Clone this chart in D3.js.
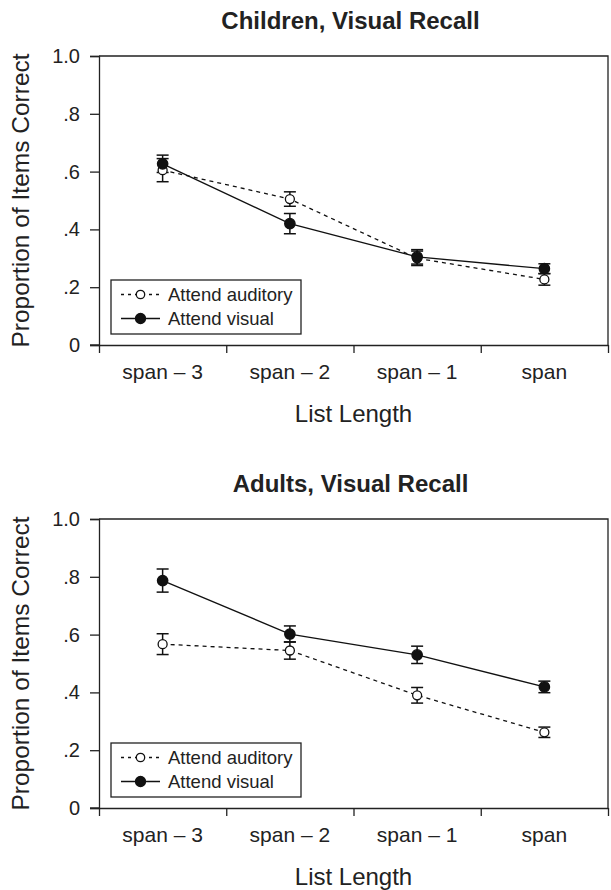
<!DOCTYPE html>
<html>
<head>
<meta charset="utf-8">
<script src="https://cdn.jsdelivr.net/npm/d3@7"></script>
<style>
  body { margin: 0; background: #fff; }
  text { font-family: "Liberation Sans", Arial, Helvetica, sans-serif; fill: #222; }
</style>
</head>
<body>
<div id="chart"></div>
<script>
var categories = ["span \u2013 3", "span \u2013 2", "span \u2013 1", "span"];
var yTicks = [0, 0.2, 0.4, 0.6, 0.8, 1.0];
var seriesNames = ["Attend auditory", "Attend visual"];

// children panel
var childAuditory = [0.605, 0.505, 0.300, 0.227];
var childAuditoryErr = [0.040, 0.025, 0.025, 0.020];
var childVisual = [0.627, 0.420, 0.305, 0.264];
var childVisualErr = [0.030, 0.035, 0.025, 0.017];

// adults panel
var adultAuditory = [0.567, 0.545, 0.390, 0.262];
var adultAuditoryErr = [0.036, 0.030, 0.027, 0.018];
var adultVisual = [0.787, 0.602, 0.530, 0.419];
var adultVisualErr = [0.040, 0.028, 0.030, 0.020];

var svgWidth = 611, svgHeight = 890;
var svg = d3.select("#chart").append("svg")
  .attr("width", svgWidth)
  .attr("height", svgHeight);

var plotLeft = 99, plotW = 509, plotH = 289;

function drawPanel(top, title, auditory, auditoryErr, visual, visualErr) {
  var g = svg.append("g").attr("transform", `translate(${plotLeft}, ${top})`);

  var x = d3.scaleBand().domain(categories).range([0, plotW]).padding(0);
  var xEdge = d3.scaleLinear().domain([0, categories.length]).range([0, plotW]);
  var y = d3.scaleLinear().domain([0, 1]).range([plotH, 0]);

  // box (top + right)
  g.append("path")
    .attr("d", `M0,0H${plotW}V${plotH}`)
    .attr("fill", "none").attr("stroke", "#222").attr("stroke-width", 1.3);

  // y axis
  var yAxis = g.append("g")
    .call(d3.axisLeft(y).tickValues(yTicks).tickSizeOuter(0).tickSize(9).tickPadding(10)
      .tickFormat(d => d === 0 ? "0" : d === 1 ? "1.0" : d3.format(".1f")(d).replace("0.", ".")));
  yAxis.selectAll("text").attr("font-size", "20px").attr("fill", "#222");

  // x axis: ticks at band edges, labels at centres
  g.append("g").attr("transform", `translate(0, ${plotH})`)
    .call(d3.axisBottom(xEdge).tickValues(d3.range(categories.length + 1)).tickSize(8).tickSizeOuter(0).tickFormat(""));
  var xLabels = g.append("g").attr("transform", `translate(0, ${plotH})`)
    .call(d3.axisBottom(x).tickSize(0).tickPadding(19));
  xLabels.select(".domain").remove();
  xLabels.selectAll("text").attr("font-size", "21px").attr("fill", "#222");

  g.selectAll(".domain, .tick line").attr("stroke", "#222").attr("stroke-width", 1.3);
  // extend baseline under the 0 tick
  g.append("line").attr("x1", -9).attr("x2", 0).attr("y1", plotH).attr("y2", plotH)
    .attr("stroke", "#222").attr("stroke-width", 1.3);

  // titles
  svg.append("text")
    .attr("x", plotLeft + plotW / 2 - 3).attr("y", top - 27)
    .attr("text-anchor", "middle").attr("font-size", "24px").attr("font-weight", "bold")
    .text(title);
  svg.append("text")
    .attr("x", plotLeft + plotW / 2).attr("y", top + plotH + 77)
    .attr("text-anchor", "middle").attr("font-size", "24px")
    .text("List Length");
  svg.append("text")
    .attr("transform", `translate(29, ${top + plotH / 2}) rotate(-90)`)
    .attr("text-anchor", "middle").attr("font-size", "24.5px")
    .text("Proportion of Items Correct");

  var series = [
    { vals: auditory, err: auditoryErr, dash: "4,4", fill: "#fff" },
    { vals: visual, err: visualErr, dash: null, fill: "#111" }
  ];

  var line = d3.line()
    .x((d, i) => x(categories[i]) + x.bandwidth() / 2)
    .y(d => y(d));

  series.forEach(function(s) {
    g.append("path")
      .attr("d", line(s.vals))
      .attr("fill", "none")
      .attr("stroke", "#111")
      .attr("stroke-width", 1.3)
      .attr("stroke-dasharray", s.dash);
  });

  series.forEach(function(s) {
    s.vals.forEach(function(v, i) {
      var cx = x(categories[i]) + x.bandwidth() / 2;
      var lo = y(v - s.err[i]), hi = y(v + s.err[i]);
      var eb = g.append("g").attr("stroke", "#111").attr("stroke-width", 1.5);
      eb.append("line").attr("x1", cx).attr("x2", cx).attr("y1", lo).attr("y2", hi);
      eb.append("line").attr("x1", cx - 6).attr("x2", cx + 6).attr("y1", lo).attr("y2", lo);
      eb.append("line").attr("x1", cx - 6).attr("x2", cx + 6).attr("y1", hi).attr("y2", hi);
    });
  });

  series.forEach(function(s) {
    g.selectAll(null).data(s.vals).enter().append("circle")
      .attr("cx", (d, i) => x(categories[i]) + x.bandwidth() / 2)
      .attr("cy", d => y(d))
      .attr("r", s.fill === "#fff" ? 4.5 : 5.2)
      .attr("fill", s.fill)
      .attr("stroke", "#111")
      .attr("stroke-width", 1.3);
  });

  // legend
  var lg = g.append("g").attr("transform", `translate(12, ${plotH - 65})`);
  lg.append("rect").attr("width", 190).attr("height", 54)
    .attr("fill", "#fff").attr("stroke", "#222").attr("stroke-width", 1.3);
  series.forEach(function(s, k) {
    var ly = 14.5 + k * 24;
    lg.append("line").attr("x1", 10).attr("x2", 49).attr("y1", ly).attr("y2", ly)
      .attr("stroke", "#111").attr("stroke-width", 1.3).attr("stroke-dasharray", s.dash ? "3,4" : null);
    lg.append("circle").attr("cx", 29.5).attr("cy", ly).attr("r", s.fill === "#fff" ? 4.2 : 5)
      .attr("fill", s.fill).attr("stroke", "#111").attr("stroke-width", 1.3);
    lg.append("text").attr("x", 57).attr("y", ly + 6.5).attr("font-size", "18.5px")
      .text(seriesNames[k]);
  });
}

drawPanel(56, "Children, Visual Recall", childAuditory, childAuditoryErr, childVisual, childVisualErr);
drawPanel(519, "Adults, Visual Recall", adultAuditory, adultAuditoryErr, adultVisual, adultVisualErr);
</script>
</body>
</html>
